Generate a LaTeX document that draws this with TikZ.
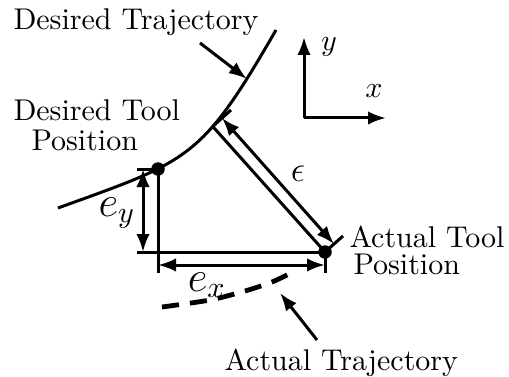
\documentclass[tikz,border=0pt]{standalone}
\usetikzlibrary{arrows.meta}
\begin{document}
\begin{tikzpicture}[x=0.3333pt,y=-0.3333pt, line width=1pt,
  tipa/.style={-{Latex[length=6pt,width=4.5pt]}},
  dtipa/.style={{Latex[length=6pt,width=4.5pt]}-{Latex[length=6pt,width=4.5pt]}},
  dot/.style={circle,fill,inner sep=0pt,minimum size=4.5pt},
  lbl/.style={font=\normalsize, inner sep=0pt},
  biglbl/.style={font=\Large, inner sep=0pt}]
\useasboundingbox (0,0) rectangle (509,376);
% desired trajectory
\draw (58,208) .. controls (189.6,160.4) and (201,160) ..
  coordinate[pos=0.65] (C) coordinate[pos=0.855] (T1) (276,30);
% key points
\node[dot] (A) at (158,169) {};
\node[dot] (B) at (325,252) {};
% actual trajectory
\draw[line width=1.6pt, dash pattern=on 5.7pt off 3.7pt]
  plot[smooth] coordinates {(162,307) (210,300) (245,291) (272,282) (293,272)};
% triangle lines
\coordinate (Abot) at (158,273);
\coordinate (Bleft) at (137,252);
\coordinate (Atick) at (137,169);
\coordinate (Bbot) at (325,273);
\draw (A.center) -- (Abot);
\draw (Bleft) -- (B.center);
\draw (Atick) -- (A.center);
\draw (B.center) -- (Bbot);
\draw (C) -- (B.center);
% e_y
\coordinate (eyT) at (143,169);
\coordinate (eyB) at (143,252);
\draw[dtipa] (eyT) -- (eyB);
% e_x
\coordinate (exL) at (158,265);
\coordinate (exR) at (325,265);
\draw[dtipa] (exL) -- (exR);
% epsilon
\coordinate (Ct) at (231,110);
\coordinate (Bt) at (343,236);
\draw (C) -- (Ct);
\draw (B.center) -- (Bt);
\coordinate (epsT) at (222,118);
\coordinate (epsB) at (334,244);
\draw[dtipa] (epsT) -- (epsB);
% axes
\coordinate (O) at (304,118);
\coordinate (Oy) at (304,37);
\coordinate (Ox) at (386,118);
\draw[tipa] (O) -- (Oy);
\draw[tipa] (O) -- (Ox);
\node[lbl] (ylab) at (329,47) {$y$};
\node[lbl] (xlab) at (374,91) {$x$};
% labels
\node[biglbl] (eylab) at (117,213) {$e_y$};
\node[biglbl] (exlab) at (207,285) {$e_x$};
\node[lbl,font=\large] (epslab) at (298,174) {$\epsilon$};
\node[lbl,anchor=base west] (dt) at (12,30) {Desired Trajectory};
\node[lbl,anchor=base west] (dtp1) at (12,121) {Desired Tool};
\node[lbl,anchor=base west] (dtp2) at (30,150) {Position};
\node[lbl,anchor=base west] (atp1) at (348,247) {Actual Tool};
\node[lbl,anchor=base west] (atp2) at (352,274) {Position};
\node[lbl,anchor=base west] (at) at (223,370) {Actual Trajectory};
% label arrows
\coordinate (dtA) at (200,43);
\coordinate (atA) at (317,340);
\coordinate (atT) at (280,293);
\draw[tipa] (dtA) -- (T1);
\draw[tipa] (atA) -- (atT);
\end{tikzpicture}
\end{document}
